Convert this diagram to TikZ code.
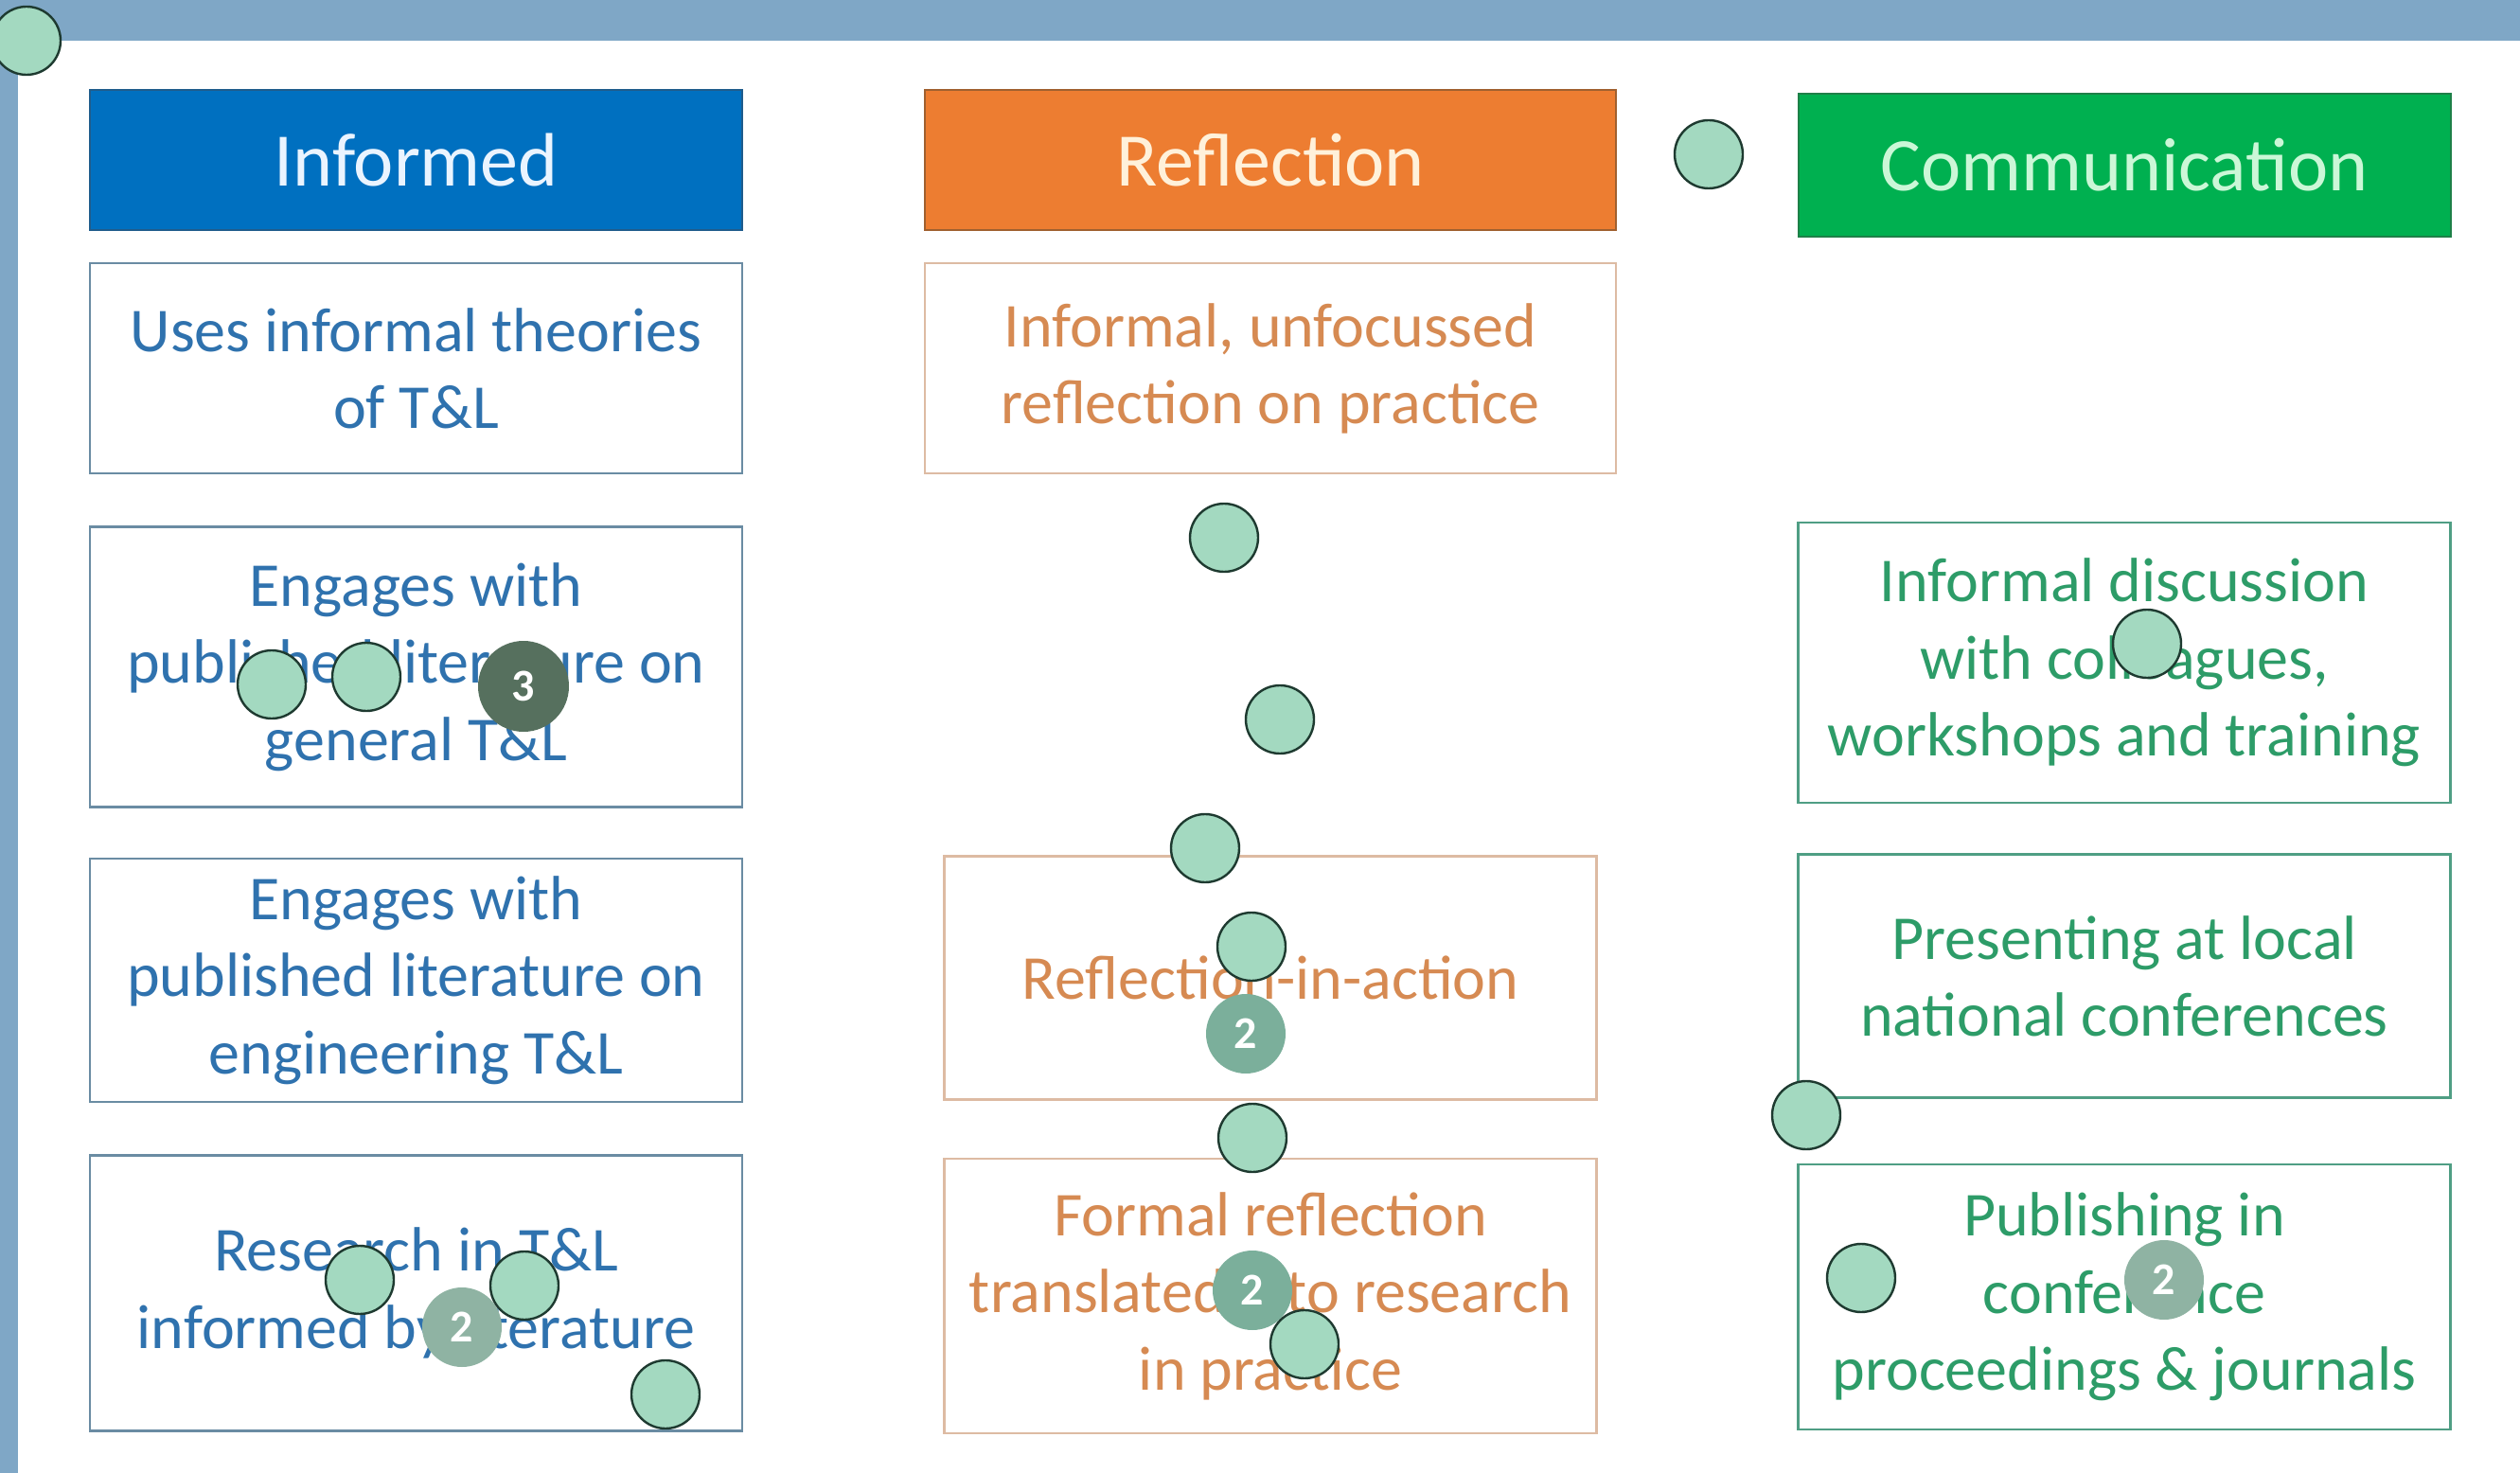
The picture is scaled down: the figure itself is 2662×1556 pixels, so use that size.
\documentclass[tikz,border=0pt]{standalone}
\usepackage{fontspec}
\setmainfont{Carlito}
\usepackage{xcolor}
\usetikzlibrary{positioning}

\definecolor{band}{HTML}{7FA7C6}
\definecolor{infblue}{HTML}{0070C0}
\definecolor{infedge}{HTML}{1F5C8C}
\definecolor{infhead}{HTML}{EAF4FF}
\definecolor{inftext}{HTML}{2F72AE}
\definecolor{infline}{HTML}{6A8CA3}
\definecolor{reforange}{HTML}{ED7D31}
\definecolor{refedge}{HTML}{A0602F}
\definecolor{refhead}{HTML}{FFF1DA}
\definecolor{reftext}{HTML}{D68A52}
\definecolor{refline}{HTML}{DDBBA3}
\definecolor{comgreen}{HTML}{00B050}
\definecolor{comedge}{HTML}{1E8048}
\definecolor{comhead}{HTML}{CBF7D7}
\definecolor{comtext}{HTML}{2D9C68}
\definecolor{comline}{HTML}{4F9E84}
\definecolor{dotfill}{HTML}{A3D9C0}
\definecolor{dotline}{HTML}{1E3A30}
\definecolor{badgedark}{HTML}{56705E}
\definecolor{badgemid}{HTML}{7BAF9B}
\definecolor{badgelight}{HTML}{8FB3A3}

\tikzset{
  hdr/.style={line width=1pt, font=\fontsize{40}{48}\selectfont},
  cell/.style={line width=1.2pt, fill=white, align=center, font=\fontsize{33}{40.75}\selectfont},
  infhdr/.style={hdr, draw=infedge, fill=infblue, text=infhead},
  refhdr/.style={hdr, draw=refedge, fill=reforange, text=refhead},
  comhdr/.style={hdr, draw=comedge, fill=comgreen, text=comhead},
  infcell/.style={cell, draw=infline, text=inftext, minimum width=344.5pt},
  refcell/.style={cell, draw=refline, text=reftext},
  comcell/.style={cell, draw=comline, text=comtext, minimum width=344.5pt},
  dot/.style={circle, draw=dotline, fill=dotfill, line width=1.2pt, minimum size=36pt, inner sep=0pt},
  badge/.style={circle, fill=#1, text=white, inner sep=0pt, minimum size=42pt, font=\fontsize{24}{28}\bfseries\selectfont}
}

\begin{document}
\begin{tikzpicture}[x=0.5pt, y=-0.5pt]
\useasboundingbox (0,0) rectangle (2662,1556);
\fill[band] (0,0) rectangle (2662,43);
\fill[band] (0,43) rectangle (19,1556);

% headers
\node[infhdr, minimum width=344.5pt, minimum height=74pt] (informed) at (439.5,169) {Informed};
\node[refhdr, minimum width=365pt, minimum height=74pt] (reflection) at (1342,169) {Reflection};
\node[comhdr, minimum width=344.5pt, minimum height=75.5pt] (communication) at (2244,174.5) {Communication};

% informed column
\node[infcell, minimum height=111pt, below=16.5pt of informed] (theories) {Uses informal theories\\of T\&L};
\node[infcell, minimum height=148pt, below=27pt of theories] (general) {Engages with\\published literature on\\general T\&L};
\node[infcell, minimum height=128.5pt, below=26pt of general] (engineering) {Engages with\\published literature on\\engineering T\&L};
\node[infcell, minimum height=145.5pt, below=27pt of engineering] (research) {Research in T\&L\\informed by literature};

% reflection column
\node[refcell, minimum width=365pt, minimum height=111pt, below=16.5pt of reflection] (unfocussed) {Informal, unfocussed\\reflection on practice};
\node[refcell, minimum width=344.5pt, minimum height=128.5pt, below=201pt of unfocussed] (inaction) {Reflection-in-action};
\node[refcell, minimum width=344.5pt, minimum height=145pt, below=30pt of inaction] (formal) {Formal reflection\\translated into research\\in practice};

% communication column
\node[comcell, minimum height=148pt, below=150pt of communication] (discussion) {Informal discussion\\with colleagues,\\workshops and training};
\node[comcell, minimum height=128.5pt, below=26pt of discussion] (presenting) {Presenting at local\\national conferences};
\node[comcell, minimum height=140pt, below=34pt of presenting] (publishing) {Publishing in\\conference\\proceedings \& journals};

% counters
\node[badge=badgedark, minimum size=48pt] (count3) at (553,725) {3};
\node[badge=badgelight] (countres) at (488,1402) {2};
\node[badge=badgemid] (countact) at (1316,1092) {2};
\node[badge=badgemid] (countfor) at (1323,1363) {2};
\node[badge=badgelight] (countpub) at (2286,1352) {2};

% markers
\foreach \x/\y [count=\i] in {28/43, 1805/163, 1293/568, 1352/760, 1273/896, 1322/1000,
    1323/1202, 1378/1420, 287/723, 387/715, 380/1352, 554/1358, 703/1473,
    2268/680, 1908/1178, 1966/1350}
  \node[dot] (m\i) at (\x,\y) {};
\end{tikzpicture}
\end{document}
